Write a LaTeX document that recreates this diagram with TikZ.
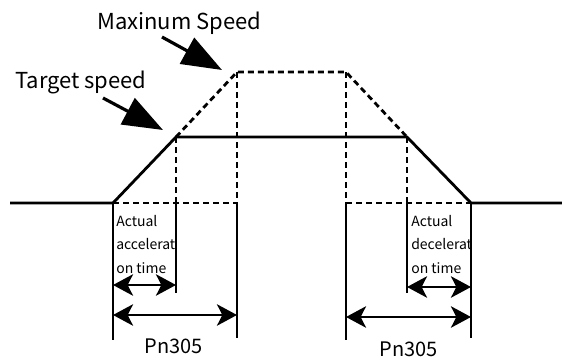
\documentclass[tikz,border=0pt]{standalone}
\usepackage{fontspec}
\setmainfont{Noto Sans CJK SC}
\usetikzlibrary{arrows.meta}

\begin{document}
\begin{tikzpicture}[
  x=0.75pt, y=-0.75pt,
  profile/.style={line width=2.1pt, line join=miter},
  limit/.style={line width=2.1pt, dash pattern=on 4.5pt off 3pt},
  guide/.style={line width=2.1pt},
  dimarrow/.style={line width=2.1pt, {Stealth[length=15pt,width=16pt,inset=4pt]}-{Stealth[length=15pt,width=16pt,inset=4pt]}},
  pointer/.style={line width=2.4pt, -{Triangle[length=30pt,width=22pt]}},
  caption/.style={font=\fontsize{16.5}{18}\selectfont, inner sep=0pt, anchor=base west},
  param/.style={font=\fontsize{15}{17}\selectfont, inner sep=0pt, anchor=base},
  note/.style={font=\fontsize{10.5}{17.6}\selectfont, align=left, inner sep=0pt, anchor=north west},
]
\useasboundingbox (0,0) rectangle (562,361);
% corners of the speed profile
\coordinate (start) at (10,203);
\coordinate (accA)  at (113,203);
\coordinate (tgtA)  at (176,137);
\coordinate (maxA)  at (237,72);
\coordinate (maxB)  at (346,72);
\coordinate (tgtB)  at (407,137);
\coordinate (decB)  at (471,203);
\coordinate (end)   at (562,203);
% lower ends of the guide lines
\coordinate (accAlow) at (113,340);
\coordinate (tgtAlow) at (176,293);
\coordinate (maxAlow) at (237,338);
\coordinate (maxBlow) at (346,340);
\coordinate (tgtBlow) at (407,293);
\coordinate (decBlow) at (471,338);
% ends of the dimension arrows
\coordinate (accS1) at (113,285);
\coordinate (accS2) at (176,285);
\coordinate (accL1) at (113,315);
\coordinate (accL2) at (237,315);
\coordinate (decS1) at (407,287);
\coordinate (decS2) at (471,287);
\coordinate (decL1) at (346,317);
\coordinate (decL2) at (471,317);

% maximum speed profile
\draw[limit] (tgtA) -- (maxA) -- (maxB) -- (tgtB);
\draw[limit] (accA) -- (maxA |- accA);
\draw[limit] (maxB |- decB) -- (decB);
\draw[limit] (tgtA) -- (tgtA |- accA);
\draw[limit] (maxA) -- (maxA |- accA);
\draw[limit] (maxB) -- (maxB |- decB);
\draw[limit] (tgtB) -- (tgtB |- decB);

% target speed profile
\draw[profile] (start) -- (accA) -- (tgtA) -- (tgtB) -- (decB) -- (end);

% guide lines
\draw[guide] (accA) -- (accAlow);
\draw[guide] (tgtA |- accA) -- (tgtAlow);
\draw[guide] (maxA |- accA) -- (maxAlow);
\draw[guide] (maxB |- decB) -- (maxBlow);
\draw[guide] (tgtB |- decB) -- (tgtBlow);
\draw[guide] (decB) -- (decBlow);

% dimension arrows
\draw[dimarrow] (accS1) -- (accS2);
\draw[dimarrow] (accL1) -- (accL2);
\draw[dimarrow] (decS1) -- (decS2);
\draw[dimarrow] (decL1) -- (decL2);

% labels
\node[caption] (maxlabel) at (97,29) {Maxinum Speed};
\node[caption] (tgtlabel) at (15,88) {Target speed};
\coordinate (maxtail) at (162,37);
\coordinate (tgttail) at (103,98);
\draw[pointer] (maxtail) -- (222,70);
\draw[pointer] (tgttail) -- (163,130);

\node[note] (accnote) at (116,215) {Actual\\accelerat\\on time};
\node[note] (decnote) at (411,215) {Actual\\decelerat\\on time};
\node[param] (accparam) at (174,353) {Pn305};
\node[param] (decparam) at (409,356) {Pn305};
\end{tikzpicture}
\end{document}
